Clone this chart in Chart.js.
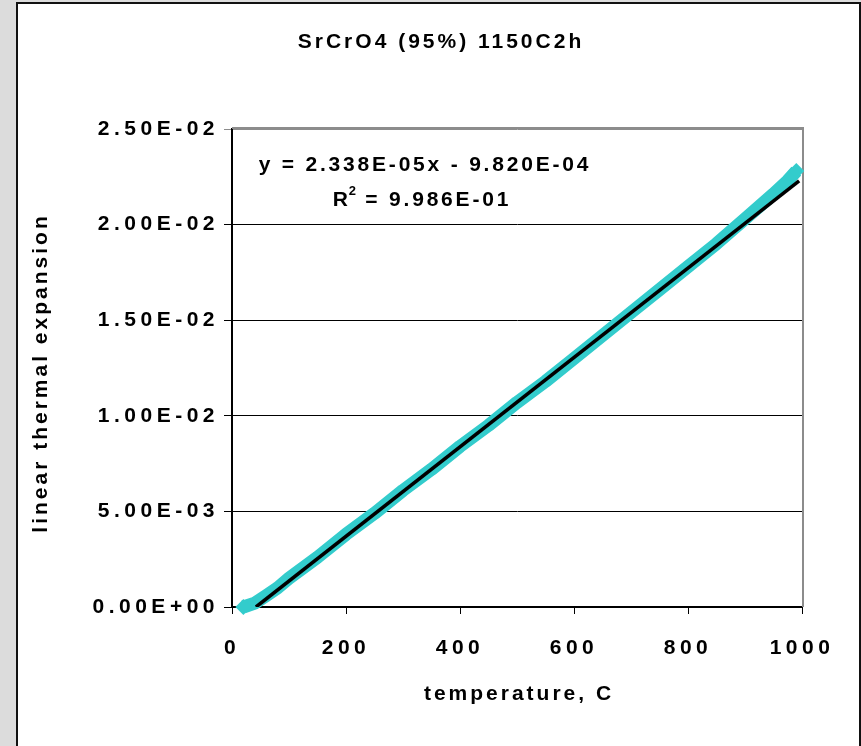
<!DOCTYPE html>
<html>
<head>
  <title>SrCrO4 (95%) 1150C2h</title>
  <style>
      body {
          margin: 0;
          padding: 0;
          background-color: #dcdcdc;
          font-family: "Liberation Sans", Arial, sans-serif;
      }
      .frame {
          position: absolute;
          left: 16px;
          top: 2px;
          width: 841px;
          height: 760px;
          background: white;
          border: 2px solid #111;
      }
      #dilatometry {
          position: absolute;
          left: 0;
          top: 0;
      }
  </style>
</head>
<body>
  <div class="frame"></div>
  <canvas id="dilatometry" width="861" height="746"></canvas>
  <script src="https://cdn.jsdelivr.net/npm/chart.js"></script>
  <script>
      // measured dilatometer curve (temperature in C, dL/L)
      const temperatures = [20, 40, 60, 80, 100, 150, 200, 250, 300, 350, 400, 450, 500,
                            550, 600, 650, 700, 750, 800, 850, 900, 950, 975, 990];
      const expansion = [0.0000, 0.0002, 0.0006, 0.0010, 0.0015, 0.0026, 0.0038, 0.0049,
                         0.0061, 0.0072, 0.0084, 0.0095, 0.0107, 0.0118, 0.0130, 0.0142,
                         0.0154, 0.0166, 0.0178, 0.0190, 0.0203, 0.0216, 0.0223, 0.0228];

      // linear trendline
      const slope = 2.338E-05;
      const intercept = -9.820E-04;
      const rSquared = 9.986E-01;
      const trendRange = [42, 995];

      const xTickLabels = ['0', '200', '400', '600', '800', '1000'];
      const yTickLabels = ['0.00E+00', '5.00E-03', '1.00E-02', '1.50E-02', '2.00E-02', '2.50E-02'];

      const chartTitle = 'SrCrO4 (95%) 1150C2h';
      const xTitle = 'temperature, C';
      const yTitle = 'linear thermal expansion';

      const fontFamily = '"Liberation Sans", Arial, sans-serif';
      const boldFont = { family: fontFamily, size: 21, weight: 'bold', lineHeight: 1.2 };
      const textFont = 'bold 21px ' + fontFamily;

      const measured = temperatures.map((t, i) => ({ x: t, y: expansion[i] }));
      const trend = trendRange.map(t => ({ x: t, y: slope * t + intercept }));

      function sci(v) {
          return v.toExponential(3).toUpperCase().replace(/E([+-])(\d)$/, 'E$10$2');
      }

      // wide Excel-like lettering on the tick labels
      const spacingPlugin = {
          id: 'spacing',
          beforeUpdate(chart) { chart.ctx.letterSpacing = '4.5px'; },
          beforeDraw(chart) { chart.ctx.letterSpacing = '4.5px'; }
      };

      const framePlugin = {
          id: 'plotFrame',
          beforeDatasetsDraw(chart) {
              const { ctx, chartArea: a } = chart;
              ctx.save();
              ctx.strokeStyle = '#8c8c8c';
              ctx.lineWidth = 2;
              ctx.beginPath();
              ctx.moveTo(a.left, a.top - 1);
              ctx.lineTo(a.right + 1, a.top - 1);
              ctx.lineTo(a.right + 1, a.bottom);
              ctx.stroke();
              ctx.restore();
          },
          afterDraw(chart) {
              const { ctx, scales, chartArea: a } = chart;
              ctx.save();
              ctx.fillStyle = '#000';
              ctx.textAlign = 'center';
              ctx.textBaseline = 'middle';
              ctx.font = textFont;
              ctx.letterSpacing = '3px';
              ctx.fillText(chartTitle, 441, 42);
              ctx.fillText(xTitle, (a.left + a.right) / 2 + 2, 694);

              ctx.save();
              ctx.translate(41, 373);
              ctx.rotate(-Math.PI / 2);
              ctx.fillText(yTitle, 0, 0);
              ctx.restore();

              // trendline equation
              ctx.letterSpacing = '2.8px';
              const ex = scales.x.getPixelForValue(335);
              ctx.fillText('y = ' + sci(slope) + 'x - ' + sci(-intercept), ex + 2, scales.y.getPixelForValue(0.0231));
              const r2 = sci(rSquared);
              const y2 = scales.y.getPixelForValue(0.0213);
              ctx.textAlign = 'left';
              const wR = ctx.measureText('R').width;
              const wRest = ctx.measureText(' = ' + r2).width;
              const x0 = ex - (wR + 8 + wRest) / 2;
              ctx.fillText('R', x0, y2);
              ctx.font = 'bold 13px ' + fontFamily;
              ctx.letterSpacing = '0px';
              ctx.fillText('2', x0 + wR - 2, y2 - 8);
              ctx.font = textFont;
              ctx.letterSpacing = '2.8px';
              ctx.fillText(' = ' + r2, x0 + wR + 6, y2);
              ctx.restore();
          }
      };

      const ctx = document.getElementById('dilatometry').getContext('2d');
      new Chart(ctx, {
          type: 'scatter',
          data: {
              datasets: [
                  {
                      label: 'Linear (measured)',
                      data: trend,
                      showLine: true,
                      borderColor: '#000',
                      borderWidth: 3.5,
                      pointRadius: 0,
                      order: 0
                  },
                  {
                      label: 'measured',
                      data: measured,
                      showLine: true,
                      borderColor: '#33cccc',
                      backgroundColor: '#33cccc',
                      borderWidth: 13,
                      borderJoinStyle: 'round',
                      pointStyle: 'rectRot',
                      pointRadius: c => (c.dataIndex === 0 || c.dataIndex === measured.length - 1) ? 8 : 0,
                      pointBorderWidth: 0,
                      clip: false,
                      order: 1
                  }
              ]
          },
          options: {
              responsive: false,
              animation: false,
              layout: { padding: { top: 129, right: 59, left: 0, bottom: 0 } },
              plugins: {
                  legend: { display: false },
                  tooltip: { enabled: false }
              },
              scales: {
                  x: {
                      type: 'linear',
                      min: 0,
                      max: 1000,
                      afterFit: s => { s.height = 139; },
                      ticks: {
                          stepSize: 200,
                          color: '#000',
                          font: boldFont,
                          padding: 22,
                          maxRotation: 0,
                          callback: (v, i) => xTickLabels[i]
                      },
                      grid: { drawOnChartArea: false, color: '#000', tickLength: 7 },
                      border: { color: '#000', width: 2 }
                  },
                  y: {
                      min: 0,
                      max: 0.025,
                      afterFit: s => { s.width = 232; },
                      ticks: {
                          stepSize: 0.005,
                          color: '#000',
                          font: boldFont,
                          padding: 5,
                          callback: (v, i) => yTickLabels[i]
                      },
                      grid: {
                          color: c => (c.tick && c.tick.value >= 0.025) ? '#8c8c8c' : '#000',
                          lineWidth: 1,
                          tickLength: 8
                      },
                      border: { color: '#000', width: 2 }
                  }
              }
          },
          plugins: [spacingPlugin, framePlugin]
      });
  </script>
</body>
</html>
